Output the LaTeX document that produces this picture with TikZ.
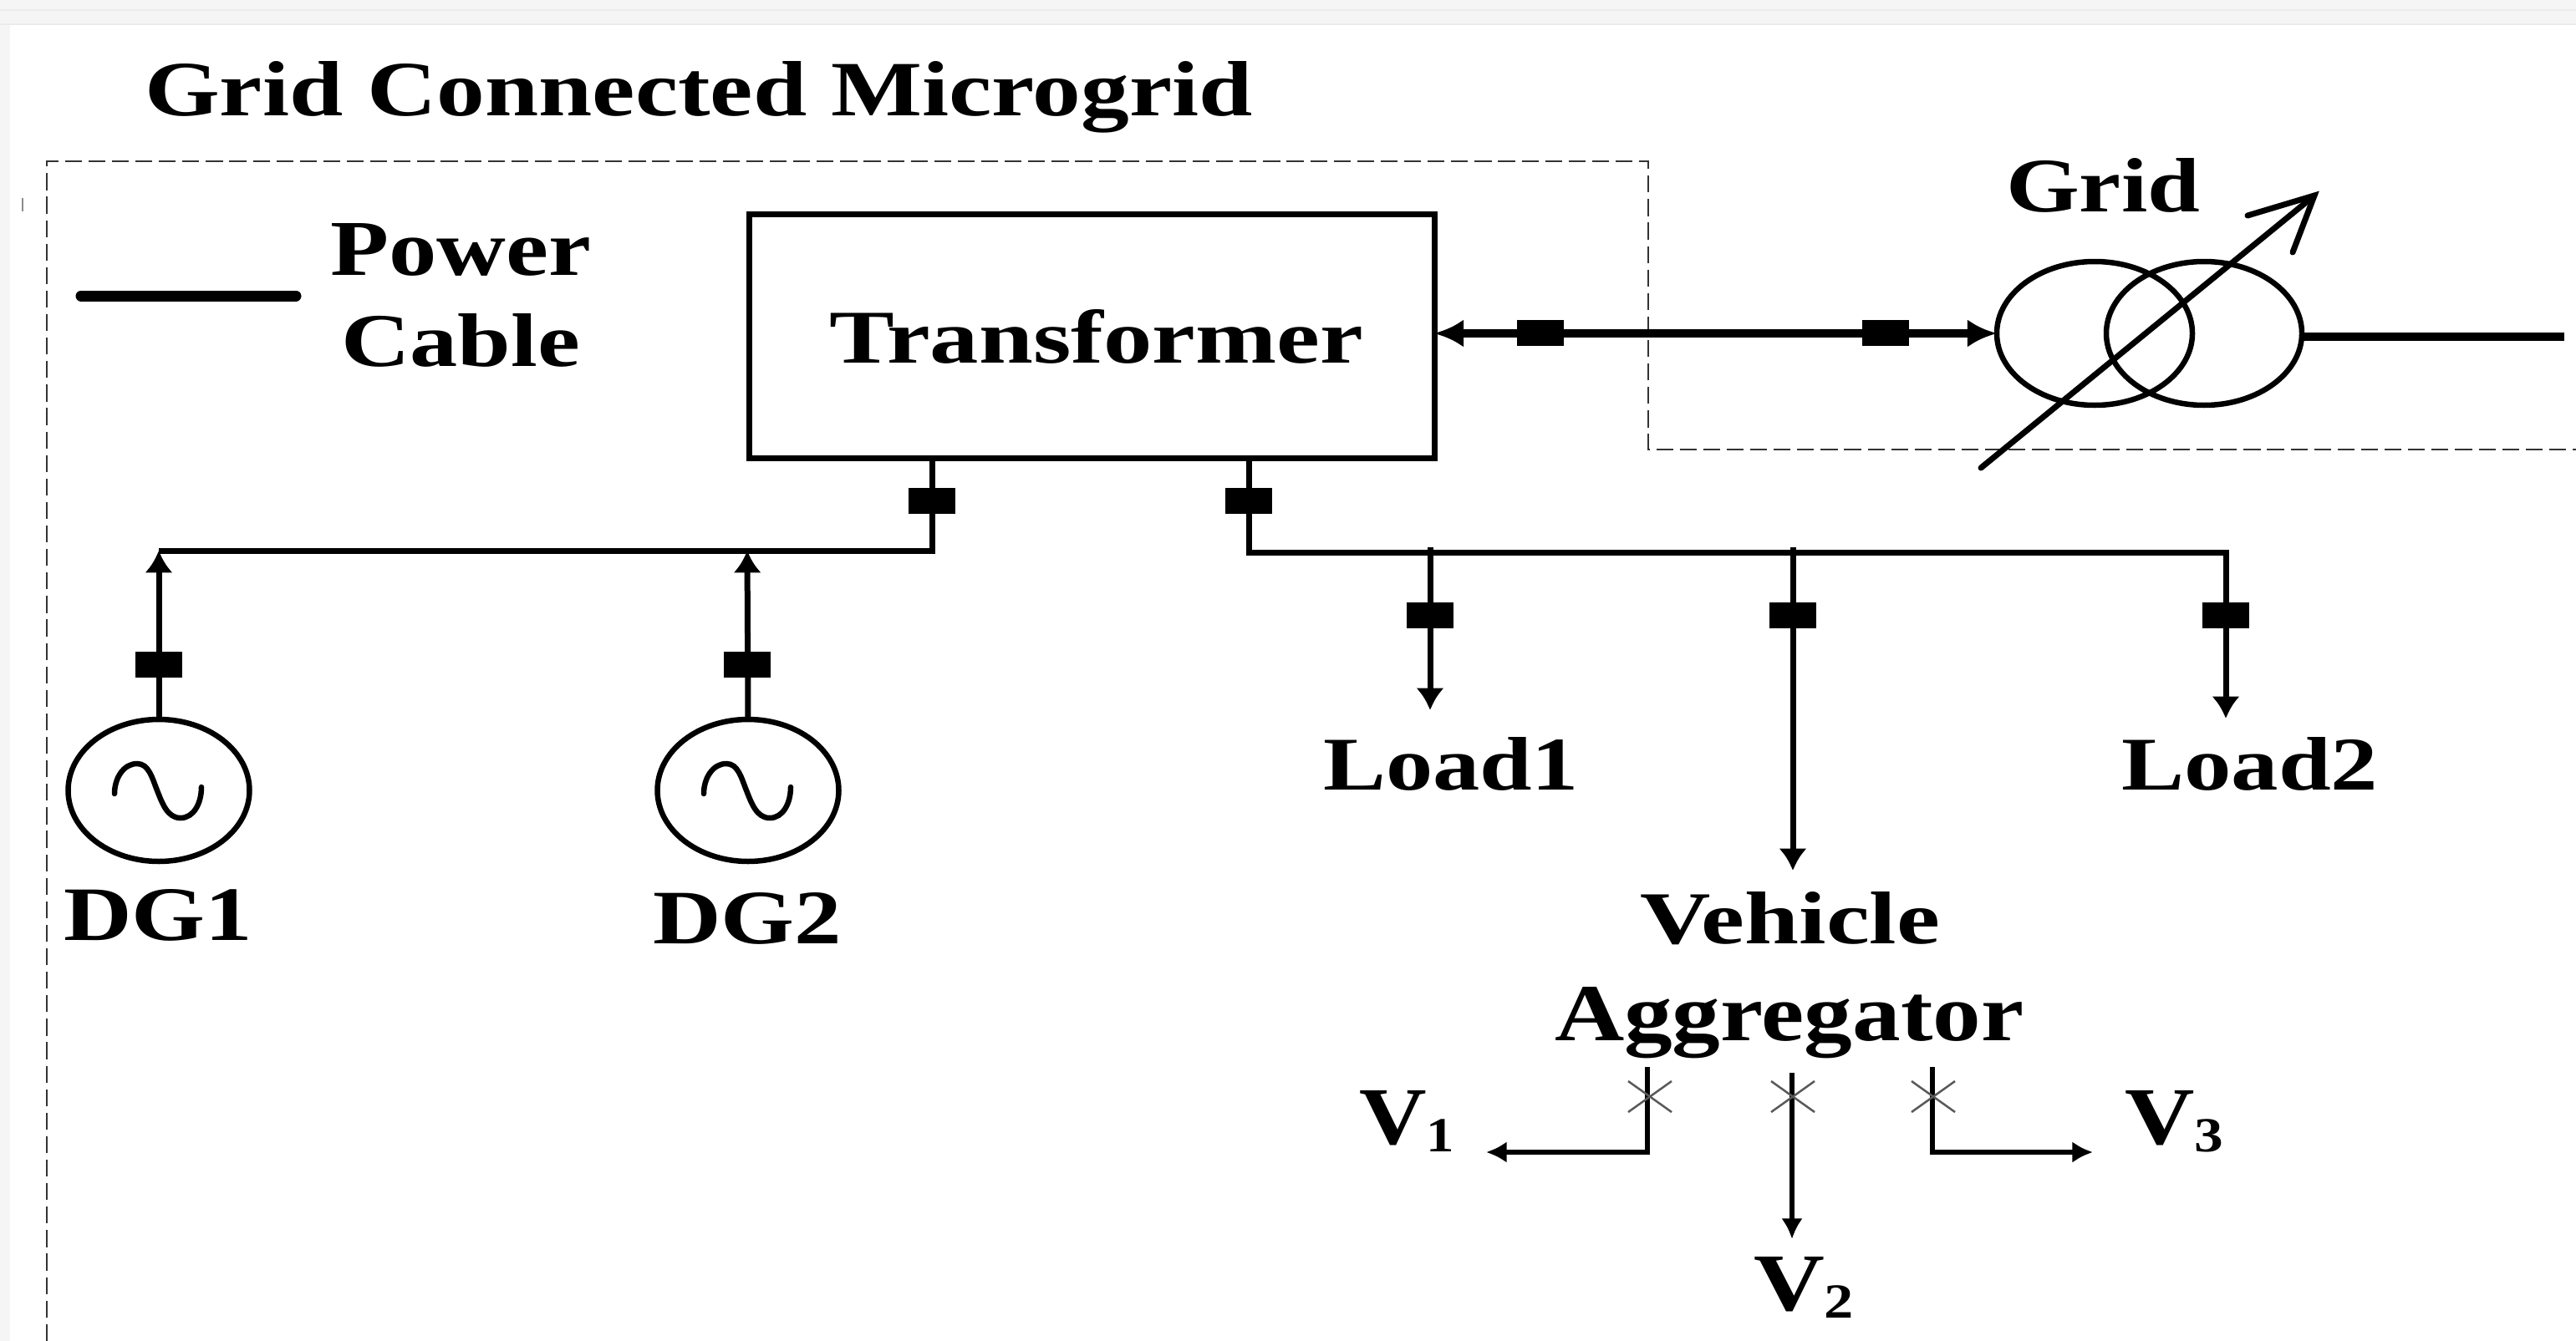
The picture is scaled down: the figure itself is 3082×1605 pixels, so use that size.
\documentclass[tikz,border=0pt]{standalone}
\usepackage{graphicx}
\usepackage{fontspec}
\setmainfont{Liberation Serif}
\usetikzlibrary{arrows.meta,shapes.geometric}
\newdimen\pxu \pxu=0.02cm
\newcommand{\fitbox}[3]{\resizebox{#1\pxu}{#2\pxu}{\bfseries #3}}
\newcommand{\subd}[1]{\raisebox{-0.1em}{\scalebox{.6}{#1}}}
\tikzset{
  lab/.style={inner sep=0pt,outer sep=0pt,anchor=base west,text=black},
  wire/.style={line width=7\pxu,draw=black},
  heavy/.style={line width=9.5\pxu,draw=black},
  thinw/.style={line width=5.5\pxu,draw=black},
  brk/.style={fill=black,draw=none,inner sep=0pt,outer sep=0pt,minimum width=#1\pxu,minimum height=31\pxu},
  brk/.default=56,
  gen/.style={ellipse,draw=black,line width=6.5\pxu,inner sep=0pt,outer sep=0pt,minimum width=217\pxu,minimum height=170\pxu},
  tfm/.style={ellipse,draw=black,line width=6.5\pxu,inner sep=0pt,outer sep=0pt,minimum width=234\pxu,minimum height=172\pxu},
  boundary/.style={draw=black!80,line width=2.5\pxu,dash pattern=on 11.5pt off 4.5pt},
  cross/.style={draw=black!65,line width=2.5\pxu},
  tipbig/.style={-{Latex[length=15pt,width=19pt]}},
  tipsmall/.style={-{Latex[length=14pt,width=14.5pt]}},
  tipboth/.style={{Latex[length=20pt,width=19pt]}-{Latex[length=20pt,width=19pt]}},
  sinewave/.pic={\draw[line width=6.5\pxu,line cap=round]
    (-53,4) .. controls (-53,-15) and (-42,-32) .. (-26,-32)
    .. controls (-12,-32) and (-8,-15) .. (-2,0)
    .. controls (4,15) and (10,33) .. (26,33)
    .. controls (42,33) and (51,15) .. (51,-4);}
}
\begin{document}
\begin{tikzpicture}[x=0.02cm,y=-0.02cm]
\useasboundingbox (0,0) rectangle (3082,1605);
\fill[white] (0,0) rectangle (3082,1605);
% page edge of the screenshot
\fill[black!4] (0,0) rectangle (3082,30);
\fill[black!4] (0,0) rectangle (12,1605);
\draw[black!8,line width=2\pxu] (0,12) -- (3082,12);
\draw[black!8,line width=2\pxu] (0,29) -- (3082,29);
\draw[black!45,line width=2\pxu] (27,237) -- (27,253);
% boundary
\draw[boundary] (56,1605) -- (56,193) -- (1972,193) -- (1972,538) -- (3082,538);
% labels
\node[lab] (title) at (173,139) {\fitbox{1325}{65}{Grid Connected Microgrid}};
\node[lab] (power) at (395,329) {\fitbox{312}{62}{Power}};
\node[lab] (cable) at (408,438) {\fitbox{286}{63}{Cable}};
\node[lab] (gridt) at (2400,254) {\fitbox{232}{64}{Grid}};
\node[lab] (dgone) at (76,1125) {\fitbox{226}{61}{DG1}};
\node[lab] (dgtwo) at (781,1129) {\fitbox{226}{61}{DG2}};
\node[lab] (loadone) at (1583,945) {\fitbox{306}{63}{Load1}};
\node[lab] (loadtwo) at (2538,945) {\fitbox{307}{63}{Load2}};
\node[lab] (vehicle) at (1962,1129) {\fitbox{359}{62}{Vehicle}};
\node[lab] (aggr) at (1860,1245) {\fitbox{561}{64}{Aggregator}};
\node[lab] (vone) at (1626,1369) {\fitbox{114}{64}{V\subd{1}}};
\node[lab] (vtwo) at (2098,1568) {\fitbox{120}{64}{V\subd{2}}};
\node[lab] (vthree) at (2542,1369) {\fitbox{118}{64}{V\subd{3}}};
% legend line
\coordinate (lega) at (97,354);
\coordinate (legb) at (354,354);
\draw[line width=13\pxu,line cap=round] (lega) -- (legb);
% equipment
\node[draw=black,line width=7\pxu,inner sep=0pt,outer sep=0pt,minimum width=820\pxu,minimum height=292\pxu] (xf) at (1306,402) {};
\node[lab] (xflabel) at (992,434) {\fitbox{639}{64}{Transformer}};
\node[tfm] (tfa) at (2506,399) {};
\node[tfm] (tfb) at (2637,399) {};
\node[gen] (gone) at (190,946) {};
\node[gen] (gtwo) at (895,946) {};
\pic at (gone.center) {sinewave};
\pic at (gtwo.center) {sinewave};
% breakers
\node[brk] (bgone) at (1843,398) {};
\node[brk] (bgtwo) at (2256,398) {};
\node[brk] (bta) at (1115,599) {};
\node[brk] (btb) at (1494,599) {};
\node[brk] (bdgone) at (190,795) {};
\node[brk] (bdgtwo) at (894,795) {};
\node[brk] (blone) at (1711,736) {};
\node[brk] (bveh) at (2145,736) {};
\node[brk] (bltwo) at (2663,736) {};
% bus coordinates
\coordinate (busl) at (190,659);
\coordinate (buslt) at (894,659);
\coordinate (busr) at (2663,661);
\coordinate (tapone) at (1711,655);
\coordinate (tapveh) at (2145,655);
\coordinate (tipone) at (1711,850);
\coordinate (tipveh) at (2145,1042);
\coordinate (tiptwo) at (2663,860);
\coordinate (lineend) at (3068,403);
\coordinate (tfroot) at (2753,403);
\coordinate (diaga) at (2370,560);
\coordinate (diagb) at (2769,234);
\coordinate (barba) at (2689,258);
\coordinate (barbb) at (2743,302);
% grid link
\draw[heavy,tipboth] (xf.east |- tfa.west) -- (tfa.west);
\draw[heavy] (tfroot) -- (lineend);
\draw[wire,line cap=round] (diaga) -- (diagb);
\draw[wire,line cap=round,line join=miter] (barba) -- (diagb) -- (barbb);
% buses
\draw[wire] (xf.south -| bta) -- (bta.center |- busl) -- (busl);
\draw[wire] (xf.south -| btb) -- (btb.center |- busr) -- (busr) -- (bltwo.center);
\draw[wire,tipbig] (gone.north) -- (busl);
\draw[wire,tipbig] (gtwo.north) -- (buslt);
\draw[wire,tipbig] (tapone) -- (tipone);
\draw[wire,tipbig] (tapveh) -- (tipveh);
\draw[wire,tipbig] (bltwo.center) -- (tiptwo);
% vehicles
\coordinate (sa) at (1971,1277);
\coordinate (sb) at (2144,1284);
\coordinate (sc) at (2312,1277);
\coordinate (ca) at (1971,1379);
\coordinate (cc) at (2312,1379);
\coordinate (ta) at (1778,1379);
\coordinate (tb) at (2144,1483);
\coordinate (tc) at (2504,1379);
\draw[thinw,tipsmall] (sa) -- (ca) -- (ta);
\draw[thinw,tipsmall] (sb) -- (tb);
\draw[thinw,tipsmall] (sc) -- (cc) -- (tc);
\foreach \cx in {1974,2145,2313}{
  \draw[cross] (\cx-26,1294) -- (\cx+26,1331);
  \draw[cross] (\cx+26,1294) -- (\cx-26,1331);
}
\end{tikzpicture}
\end{document}
